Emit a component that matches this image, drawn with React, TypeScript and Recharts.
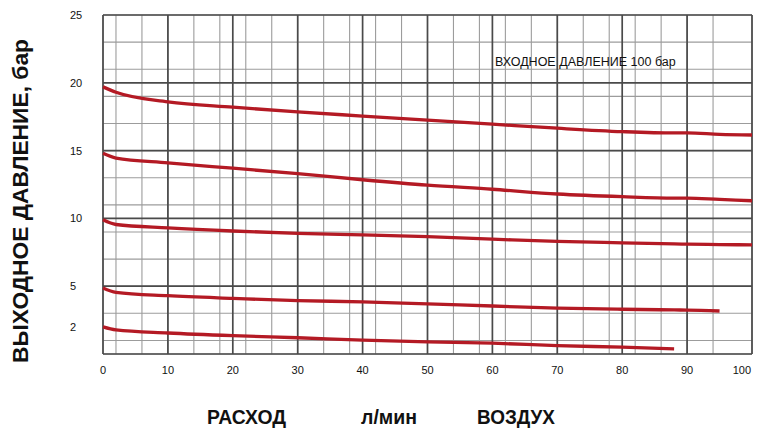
import React from 'react';
import { LineChart, Line, XAxis, YAxis, CartesianGrid } from 'recharts';

const xTicks = [0, 10, 20, 30, 40, 50, 60, 70, 80, 90, 100];
const yTicks = [2, 5, 10, 15, 20, 25];
const xMinor = [0, 2, 4, 6, 8, 10, 12, 14, 16, 18, 20, 22, 24, 26, 28, 30, 32, 34, 36, 38, 40, 42, 44, 46, 48, 50, 52, 54, 56, 58, 60, 62, 64, 66, 68, 70, 72, 74, 76, 78, 80, 82, 84, 86, 88, 90, 92, 94, 96, 98, 100];
const xMajor = [0, 10, 20, 30, 40, 50, 60, 70, 80, 90, 100];
const yMinor = [0, 1, 2, 3, 4, 5, 6, 7, 8, 9, 10, 11, 12, 13, 14, 15, 16, 17, 18, 19, 20, 21, 22, 23, 24, 25];
const yMajor = [0, 5, 10, 15, 20, 25];

const flow = [0, 2, 10, 20, 30, 40, 50, 60, 70, 80, 88, 90, 95, 100];
const p20 = [19.7, 19.3, 18.6, 18.2, 17.85, 17.55, 17.25, 16.95, 16.65, 16.4, 16.3, 16.3, 16.2, 16.15];
const p15 = [14.8, 14.45, 14.1, 13.7, 13.3, 12.85, 12.45, 12.15, 11.8, 11.6, 11.5, 11.5, 11.4, 11.3];
const p10 = [9.9, 9.55, 9.3, 9.07, 8.9, 8.78, 8.65, 8.47, 8.3, 8.2, 8.12, 8.1, 8.07, 8.05];
const p5 = [4.87, 4.55, 4.3, 4.1, 3.93, 3.85, 3.69, 3.54, 3.38, 3.3, 3.25, 3.24, 3.17, null];
const p2 = [2.0, 1.78, 1.55, 1.35, 1.2, 1.03, 0.9, 0.8, 0.62, 0.5, 0.38, null, null, null];

const inletLabel = 'ВХОДНОЕ ДАВЛЕНИЕ 100 бар';
const yTitle = 'ВЫХОДНОЕ ДАВЛЕНИЕ, бар';
const xTitleParts = ['РАСХОД', 'л/мин', 'ВОЗДУХ'];

const data = flow.map((f, i) => ({ f, p20: p20[i], p15: p15[i], p10: p10[i], p5: p5[i], p2: p2[i] }));

const FONT = '"Liberation Sans", Arial, sans-serif';
const RED = '#b41a24';

const YTick = (props: any) => {
  const { x, y, payload } = props;
  return (
    <text x={x - 33} y={y} dy={4} textAnchor="start" fontSize={11} fontFamily={FONT} fill="#111">
      {payload.value}
    </text>
  );
};

const XTick = (props: any) => {
  const { x, y, payload } = props;
  const last = payload.value === 100;
  return (
    <text x={last ? x - 1 : x} y={y} dy={12} textAnchor={last ? 'end' : 'middle'} fontSize={11} fontFamily={FONT} fill="#111">
      {payload.value}
    </text>
  );
};

export default function App() {
  return (
    <div style={{ position: 'absolute', left: 0, top: 0, width: 763, height: 439, background: '#fff' }}>
      <LineChart width={763} height={439} data={data} margin={{ top: 15, right: 11, bottom: 0, left: 0 }}>
        <XAxis xAxisId="minor" dataKey="f" type="number" domain={[0, 100]} ticks={xMinor} hide />
        <XAxis xAxisId="major" dataKey="f" type="number" domain={[0, 100]} ticks={xMajor} hide />
        <YAxis yAxisId="minor" dataKey="p20" type="number" domain={[0, 25]} ticks={yMinor} hide />
        <YAxis yAxisId="major" dataKey="p20" type="number" domain={[0, 25]} ticks={yMajor} hide />
        <CartesianGrid xAxisId="minor" yAxisId="minor" stroke="#9c9c9c" strokeWidth={1.1} />
        <CartesianGrid xAxisId="major" yAxisId="major" stroke="#4a4a4a" strokeWidth={1.7} />
        <XAxis
          dataKey="f"
          type="number"
          domain={[0, 100]}
          ticks={xTicks}
          height={85}
          axisLine={false}
          tickLine={false}
          tickSize={0}
          tickMargin={8}
          tick={<XTick />}
          interval={0}
        />
        <YAxis
          type="number"
          domain={[0, 25]}
          ticks={yTicks}
          width={103}
          axisLine={false}
          tickLine={false}
          tickSize={0}
          tickMargin={0}
          tick={<YTick />}
          interval={0}
        />
        {['p20', 'p15', 'p10', 'p5', 'p2'].map((k) => (
          <Line
            key={k}
            dataKey={k}
            type="monotone"
            stroke={RED}
            strokeWidth={3.3}
            dot={false}
            activeDot={false}
            isAnimationActive={false}
            connectNulls={false}
          />
        ))}
        <text x={495} y={66} fontSize={12.5} fontFamily={FONT} fill="#111">
          {inletLabel}
        </text>
        <text
          x={20}
          y={201}
          transform="rotate(-90 20 201)"
          textAnchor="middle"
          dominantBaseline="central"
          fontSize={22.8}
          fontWeight="bold"
          fontFamily={FONT}
          fill="#111"
        >
          {yTitle}
        </text>
        <text x={207} y={424} textLength={79} lengthAdjust="spacingAndGlyphs" fontSize={21} fontWeight="bold" fontFamily={FONT} fill="#111">
          {xTitleParts[0]}
        </text>
        <text x={361} y={424} textLength={56} lengthAdjust="spacingAndGlyphs" fontSize={21} fontWeight="bold" fontFamily={FONT} fill="#111">
          {xTitleParts[1]}
        </text>
        <text x={477} y={424} textLength={78} lengthAdjust="spacingAndGlyphs" fontSize={21} fontWeight="bold" fontFamily={FONT} fill="#111">
          {xTitleParts[2]}
        </text>
      </LineChart>
    </div>
  );
}
